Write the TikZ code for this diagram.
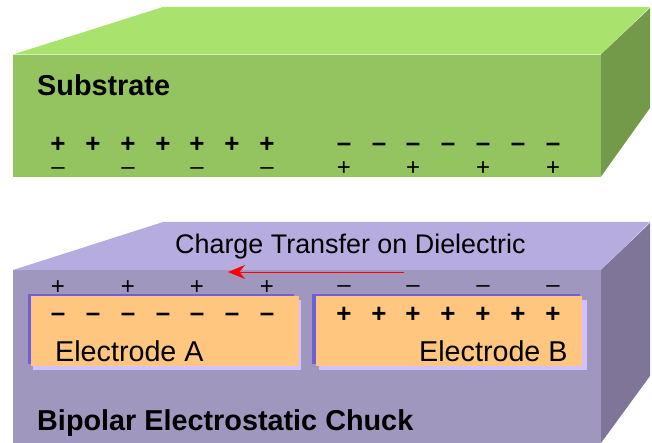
\documentclass[tikz,border=0pt]{standalone}
\usepackage{fontspec}
\setmainfont{Liberation Sans}
\usetikzlibrary{arrows.meta}
\definecolor{greenfront}{HTML}{93C460}
\definecolor{greentop}{HTML}{A9E26C}
\definecolor{greenside}{HTML}{739A49}
\definecolor{chuckfront}{HTML}{A097BF}
\definecolor{chucktop}{HTML}{B7ACDF}
\definecolor{chuckside}{HTML}{7E7598}
\definecolor{edgeblue}{HTML}{6F5FDB}
\definecolor{padorange}{HTML}{FFC680}
\definecolor{padshadow}{HTML}{D4BFFF}
\begin{document}
\begin{tikzpicture}[x=1pt,y=-1pt]
   \tikzstyle{boldcharge} = [inner sep=0pt, anchor=base, text height=9pt, text depth=0pt, font=\fontsize{26}{26}\selectfont\bfseries]
   \tikzstyle{thincharge} = [inner sep=0pt, anchor=base, text height=9pt, text depth=0pt, font=\fontsize{24}{24}\selectfont]
   \tikzstyle{title} = [inner sep=0pt, anchor=base west, font=\fontsize{28.8}{28.8}\selectfont\bfseries]
   \tikzstyle{label} = [inner sep=0pt, anchor=base west, font=\fontsize{28.7}{28.7}\selectfont]
   \useasboundingbox (0,0) rectangle (652,443);

      % substrate block
      \fill[greentop] (13,54.5) -- (163,7) -- (650,7) -- (601,54.5) -- cycle;
      \fill[greenside] (601,54.5) -- (650,8) -- (650,108) -- (601,176.5) -- cycle;
      \fill[greenfront] (13,54.5) rectangle (601,177);
      \draw[greentop!50!white, thin] (13,54.5) -- (601,54.5);

      % chuck block
      \fill[chucktop] (13,270) -- (163,222) -- (650,222) -- (601,270) -- cycle;
      \fill[chuckside] (601,270) -- (650,223) -- (650,376) -- (601,443) -- cycle;
      \fill[chuckfront] (13,270) rectangle (601,443);

      % electrodes
      \fill[padshadow] (33,300) rectangle (301,370);
      \fill[edgeblue] (28,294) rectangle (294,364);
      \fill[padorange] (31,296) rectangle (299,366);
      \fill[padshadow] (319,300) rectangle (587,370);
      \fill[edgeblue] (312,294) rectangle (580,364);
      \fill[padorange] (316,296) rectangle (582,366);

      \draw
        (37,96) node[title] (substrate){Substrate}
        (37,430) node[title] (chuck){Bipolar Electrostatic Chuck}
        (175,254) node[label, font=\fontsize{26.9}{26.9}\selectfont] (transfer){Charge Transfer on Dielectric}
        (55,361) node[label] (electrodeA){Electrode A}
        (419,361) node[label] (electrodeB){Electrode B};

      \draw
        (58,153) node[boldcharge] (s1){+}
        (93,153) node[boldcharge] (s2){+}
        (128,153) node[boldcharge] (s3){+}
        (163,153) node[boldcharge] (s4){+}
        (197,153) node[boldcharge] (s5){+}
        (232,153) node[boldcharge] (s6){+}
        (267,153) node[boldcharge] (s7){+}
        (344,152) node[boldcharge] (s8){--}
        (379,152) node[boldcharge] (s9){--}
        (413,152) node[boldcharge] (s10){--}
        (448,152) node[boldcharge] (s11){--}
        (483,152) node[boldcharge] (s12){--}
        (518,152) node[boldcharge] (s13){--}
        (553,152) node[boldcharge] (s14){--};

      \draw
        (58,175) node[thincharge] (d1){--}
        (128,175) node[thincharge] (d2){--}
        (197,175) node[thincharge] (d3){--}
        (267,175) node[thincharge] (d4){--}
        (344,176) node[thincharge] (d5){+}
        (413,176) node[thincharge] (d6){+}
        (483,176) node[thincharge] (d7){+}
        (553,176) node[thincharge] (d8){+};

      \draw
        (58,294) node[thincharge] (c1){+}
        (128,294) node[thincharge] (c2){+}
        (197,294) node[thincharge] (c3){+}
        (267,294) node[thincharge] (c4){+}
        (344,292) node[thincharge] (c5){--}
        (413,292) node[thincharge] (c6){--}
        (483,292) node[thincharge] (c7){--}
        (553,292) node[thincharge] (c8){--};

      \draw
        (58,321) node[boldcharge] (e1){--}
        (93,321) node[boldcharge] (e2){--}
        (128,321) node[boldcharge] (e3){--}
        (163,321) node[boldcharge] (e4){--}
        (197,321) node[boldcharge] (e5){--}
        (232,321) node[boldcharge] (e6){--}
        (267,321) node[boldcharge] (e7){--}
        (344,322) node[boldcharge] (e8){+}
        (379,322) node[boldcharge] (e9){+}
        (413,322) node[boldcharge] (e10){+}
        (448,322) node[boldcharge] (e11){+}
        (483,322) node[boldcharge] (e12){+}
        (518,322) node[boldcharge] (e13){+}
        (553,322) node[boldcharge] (e14){+};

      \coordinate (from) at (404,272);
      \coordinate (into) at (228,272);
      \draw[red, line width=0.9pt, -{Stealth[length=17pt, width=14pt]}] (from) -- (into);
\end{tikzpicture}
\end{document}
